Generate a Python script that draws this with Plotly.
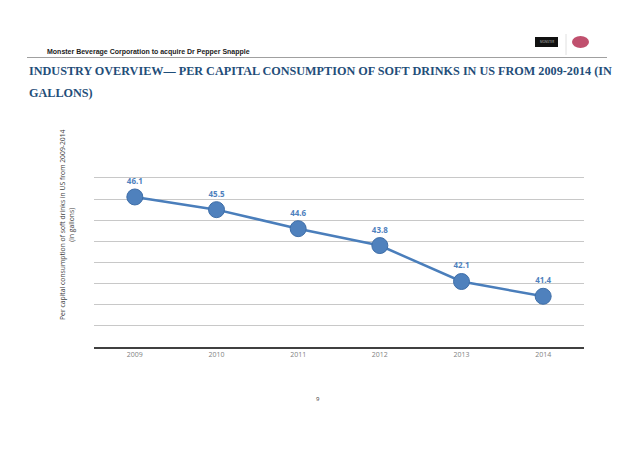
import plotly.graph_objects as go

years = ["2009", "2010", "2011", "2012", "2013", "2014"]
consumption = [46.1, 45.5, 44.6, 43.8, 42.1, 41.4]
labels = ["46.1", "45.5", "44.6", "43.8", "42.1", "41.4"]

W, H = 638, 452

def px(x):
    return x / W

def py(y):
    return 1 - y / H

fig = go.Figure()
fig.add_trace(go.Scatter(
    x=years, y=consumption, mode="lines+markers+text",
    text=["<b>%s</b>" % t for t in labels], textposition="top center",
    textfont=dict(family="Open Sans", size=8, color="#4F81BD"),
    line=dict(color="#4A7EBB", width=2.5),
    marker=dict(size=16, color="#4F81BD", line=dict(color="#3E6EA8", width=1)),
    cliponaxis=False, hoverinfo="skip",
))

fig.update_layout(
    width=W, height=H, margin=dict(l=0, r=0, t=0, b=0),
    paper_bgcolor="white", plot_bgcolor="white", showlegend=False,
    xaxis=dict(domain=[px(94), px(584)], type="category", range=[-0.5, 5.5],
               showgrid=False, showline=True, linecolor="#404040", linewidth=2,
               ticks="", tickfont=dict(family="Open Sans", size=7, color="#7f7f7f"),
               zeroline=False, fixedrange=True),
    yaxis=dict(domain=[py(347), py(176.9)], range=[39, 47.05], dtick=1,
               showgrid=True, gridcolor="#C8C8C8", gridwidth=1,
               showticklabels=False, ticks="", zeroline=False, showline=False,
               fixedrange=True),
)

ann = [
    dict(x=px(45), y=py(52), xanchor="left", yanchor="middle",
         text="<b>Monster Beverage Corporation to acquire Dr Pepper Snapple</b>",
         font=dict(family="Liberation Sans", size=7, color="#222222")),
    dict(x=px(27), y=py(71), xanchor="left", yanchor="middle",
         text="<b>INDUSTRY OVERVIEW— PER CAPITAL CONSUMPTION OF SOFT DRINKS IN US FROM 2009-2014 (IN</b>",
         font=dict(family="Liberation Serif", size=12.2, color="#1F4E79")),
    dict(x=px(27), y=py(93), xanchor="left", yanchor="middle",
         text="<b>GALLONS)</b>",
         font=dict(family="Liberation Serif", size=12.2, color="#1F4E79")),
    dict(x=px(67), y=py(225), xanchor="center", yanchor="middle", textangle=-90,
         text="Per capital consumption of soft drinks in US from 2009-2014<br>(in gallons)",
         font=dict(family="Open Sans", size=6.8, color="#404040")),
    dict(x=px(318), y=py(399), xanchor="center", yanchor="middle", text="9",
         font=dict(family="Open Sans", size=6, color="#333333")),
    dict(x=px(546.5), y=py(42), xanchor="center", yanchor="middle", text="MONSTER",
         font=dict(family="Open Sans", size=3, color="#bbbbbb")),
]
for a in ann:
    a.update(xref="paper", yref="paper", showarrow=False)
fig.update_layout(annotations=ann)

shapes = [
    dict(type="line", x0=px(27), x1=px(607), y0=py(57.5), y1=py(57.5),
         line=dict(color="#A0A0A0", width=1.2)),
    dict(type="rect", x0=px(535), x1=px(558), y0=py(47), y1=py(37),
         fillcolor="#111111", line=dict(width=0)),
    dict(type="line", x0=px(566), x1=px(566), y0=py(34), y1=py(55),
         line=dict(color="#E0E0E0", width=1)),
    dict(type="circle", x0=px(572), x1=px(589), y0=py(48), y1=py(36),
         fillcolor="#C0506E", line=dict(width=0)),
]
for s in shapes:
    s.update(xref="paper", yref="paper")
fig.update_layout(shapes=shapes)

fig.write_html("out.html", config={"displayModeBar": False, "staticPlot": True},
               post_script="document.body.style.margin='0';")
